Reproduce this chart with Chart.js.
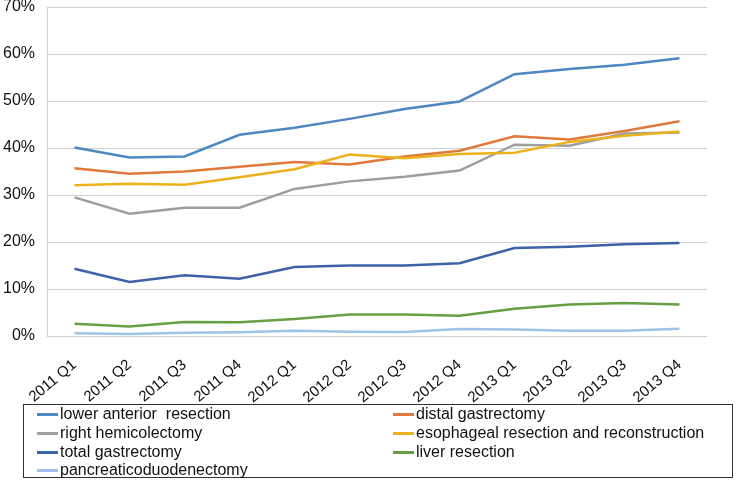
<!DOCTYPE html>
<html>
<head>
<meta charset="utf-8">
<script src="https://cdn.jsdelivr.net/npm/chart.js@4"></script>
<style>
  body { margin: 0; background: #fff; }
  #wrap { position: relative; width: 736px; height: 480px; }
  #legend {
    position: absolute; left: 23px; top: 404px; width: 710px; height: 74px;
    border: 1px solid #333; box-sizing: border-box;
    font-family: "Liberation Sans", Arial, sans-serif; font-size: 16px; color: #111;
  }
  .item { position: absolute; height: 19px; line-height: 19px; white-space: pre; }
  .item span.sw { display: inline-block; width: 21px; height: 3px; vertical-align: middle; margin-right: 2px; }
</style>
</head>
<body>
<div id="wrap">
  <canvas id="myChart" width="736" height="480"></canvas>
  <div id="legend"></div>
</div>
<script>
const quarters = ['2011 Q1', '2011 Q2', '2011 Q3', '2011 Q4', '2012 Q1', '2012 Q2',
                  '2012 Q3', '2012 Q4', '2013 Q1', '2013 Q2', '2013 Q3', '2013 Q4'];

const lowerAnterior = [40.1, 38.0, 38.2, 42.8, 44.3, 46.2, 48.3, 49.9, 55.7, 56.8, 57.7, 59.1];
const distalGastrectomy = [35.7, 34.5, 35.0, 36.0, 37.0, 36.5, 38.2, 39.4, 42.5, 41.8, 43.6, 45.7];
const rightHemicolectomy = [29.5, 26.0, 27.3, 27.3, 31.3, 32.9, 33.9, 35.2, 40.7, 40.5, 43.1, 43.3];
const esophageal = [32.1, 32.4, 32.2, 33.8, 35.5, 38.6, 37.8, 38.7, 39.0, 41.3, 42.6, 43.5];
const totalGastrectomy = [14.3, 11.5, 12.9, 12.2, 14.7, 15.0, 15.0, 15.5, 18.7, 19.0, 19.5, 19.8];
const liverResection = [2.6, 2.0, 3.0, 2.9, 3.6, 4.6, 4.6, 4.3, 5.8, 6.7, 7.0, 6.7];
const pancreatico = [0.6, 0.4, 0.7, 0.8, 1.1, 0.9, 0.85, 1.5, 1.4, 1.1, 1.1, 1.55];

const yTicks = [0, 10, 20, 30, 40, 50, 60, 70];

const series = [
    { label: 'lower anterior  resection', data: lowerAnterior, color: '#4E87C1' },
    { label: 'distal gastrectomy', data: distalGastrectomy, color: '#DF7A3C' },
    { label: 'right hemicolectomy', data: rightHemicolectomy, color: '#9E9E9E' },
    { label: 'esophageal resection and reconstruction', data: esophageal, color: '#EBB21B' },
    { label: 'total gastrectomy', data: totalGastrectomy, color: '#3D62A8' },
    { label: 'liver resection', data: liverResection, color: '#66A042' },
    { label: 'pancreaticoduodenectomy', data: pancreatico, color: '#9DC3E6' }
];

const font = "'Liberation Sans', Arial, sans-serif";

var ctx = document.getElementById('myChart').getContext('2d');
var myChart = new Chart(ctx, {
    type: 'line',
    data: {
        labels: quarters,
        datasets: series.map(s => ({
            label: s.label,
            data: s.data,
            borderColor: s.color,
            backgroundColor: s.color,
            borderWidth: 2.5,
            pointRadius: 0,
            tension: 0,
            fill: false
        })).reverse()
    },
    options: {
        responsive: false,
        animation: false,
        layout: { padding: { left: 0, right: 29, top: 7, bottom: 54 } },
        plugins: {
            legend: { display: false },
            tooltip: { enabled: false }
        },
        scales: {
            x: {
                offset: true,
                grid: { display: false, drawTicks: false },
                border: { display: false },
                ticks: {
                    color: '#111',
                    font: { family: font, size: 15 },
                    minRotation: 40,
                    maxRotation: 40,
                    autoSkip: false,
                    padding: 20
                },
                afterFit: function (scale) {
                    scale.height = 90;
                    scale.paddingLeft = 0;
                    scale.paddingRight = 0;
                }
            },
            y: {
                min: 0,
                max: 70,
                afterBuildTicks: function (scale) {
                    scale.ticks = yTicks.map(v => ({ value: v }));
                },
                grid: { color: '#D0D0D0', lineWidth: 1, drawTicks: false },
                border: { display: true, color: '#D0D0D0' },
                ticks: {
                    color: '#111',
                    font: { family: font, size: 16 },
                    padding: 12,
                    callback: v => v + '%'
                },
                afterFit: function (scale) {
                    scale.width = 47;
                    scale.paddingTop = 0;
                    scale.paddingBottom = 0;
                }
            }
        }
    }
});

// legend in two columns, drawn from the series list
const legendEl = document.getElementById('legend');
const colX = [13, 369];
const rowY = [0, 19, 38, 56];
series.forEach((s, i) => {
    const div = document.createElement('div');
    div.className = 'item';
    div.style.left = colX[i % 2] + 'px';
    div.style.top = (rowY[Math.floor(i / 2)] - 1) + 'px';
    div.innerHTML = '<span class="sw" style="background:' + s.color + '"></span>' + s.label;
    legendEl.appendChild(div);
});
</script>
</body>
</html>
